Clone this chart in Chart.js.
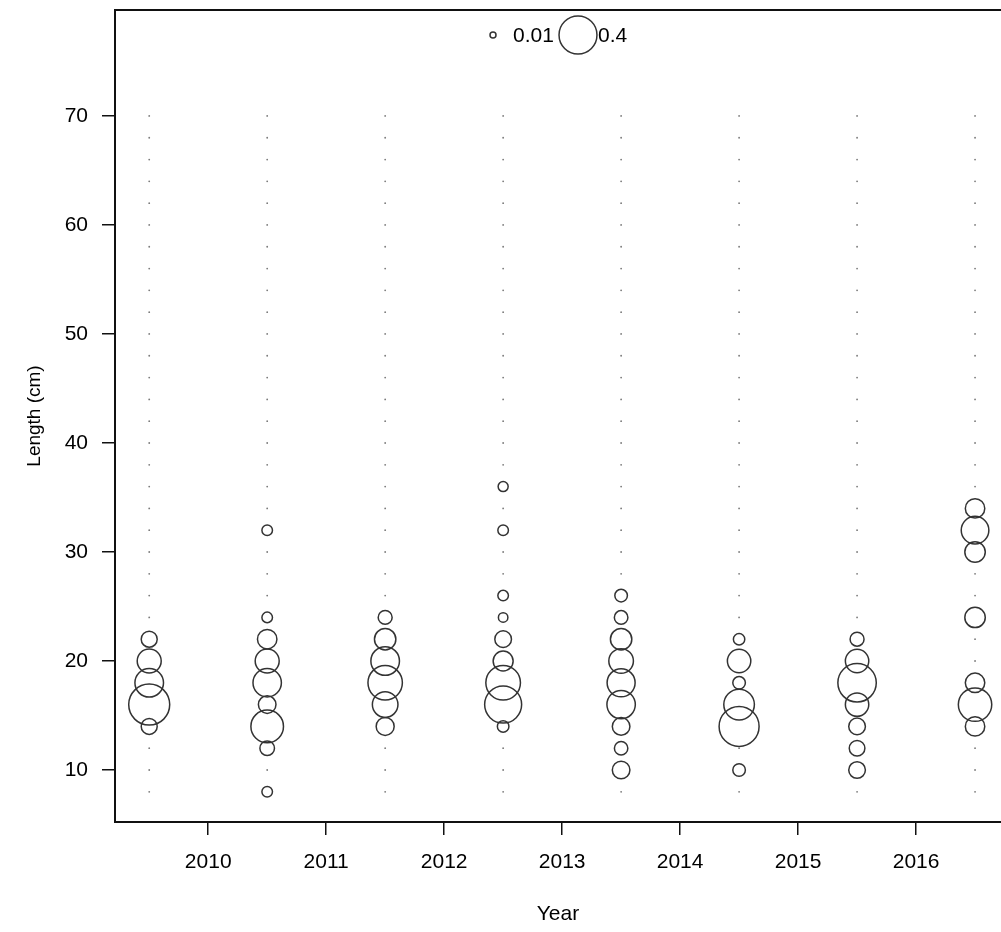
<!DOCTYPE html>
<html>
<head>
<meta charset="utf-8">
<script src="https://cdn.jsdelivr.net/npm/chart.js@4.4.1/dist/chart.umd.min.js"></script>
<style>
  html, body { margin: 0; padding: 0; background: #fff; }
  #wrap { width: 1001px; height: 932px; position: relative; }
</style>
</head>
<body>
<div id="wrap"><canvas id="c"></canvas></div>
<script>
// Length-frequency proportions by year (bubble area ~ proportion)
const yearPositions = [2009.5, 2010.5, 2011.5, 2012.5, 2013.5, 2014.5, 2015.5, 2016.5];
const yearTicks = [2010, 2011, 2012, 2013, 2014, 2015, 2016];
const lengthTicks = [10, 20, 30, 40, 50, 60, 70];
const lengthBins = [8, 10, 12, 14, 16, 18, 20, 22, 24, 26, 28, 30, 32, 34, 36, 38,
                    40, 42, 44, 46, 48, 50, 52, 54, 56, 58, 60, 62, 64, 66, 68, 70];

//                8     10     12     14     16     18     20     22     24     26    28   30     32     34     36    38..70
const p2009 = [0,     0,     0,     0.071, 0.467, 0.227, 0.160, 0.071, 0,     0,     0, 0,     0,     0,     0,     0, 0,0,0,0,0,0,0,0,0,0,0,0,0,0,0,0];
const p2010 = [0.031, 0,     0.059, 0.295, 0.086, 0.224, 0.160, 0.105, 0.031, 0,     0, 0,     0.031, 0,     0,     0, 0,0,0,0,0,0,0,0,0,0,0,0,0,0,0,0];
const p2011 = [0,     0,     0,     0.090, 0.182, 0.329, 0.227, 0.127, 0.054, 0,     0, 0,     0,     0,     0,     0, 0,0,0,0,0,0,0,0,0,0,0,0,0,0,0,0];
const p2012 = [0,     0,     0,     0.037, 0.380, 0.333, 0.111, 0.077, 0.025, 0.031, 0, 0,     0.031, 0,     0.028, 0, 0,0,0,0,0,0,0,0,0,0,0,0,0,0,0,0];
const p2013 = [0,     0.086, 0.050, 0.086, 0.224, 0.218, 0.168, 0.127, 0.051, 0.044, 0, 0,     0,     0,     0,     0, 0,0,0,0,0,0,0,0,0,0,0,0,0,0,0,0];
const p2014 = [0,     0.044, 0,     0.444, 0.260, 0.044, 0.152, 0.036, 0,     0,     0, 0,     0,     0,     0,     0, 0,0,0,0,0,0,0,0,0,0,0,0,0,0,0,0];
const p2015 = [0,     0.077, 0.068, 0.077, 0.152, 0.410, 0.152, 0.054, 0,     0,     0, 0,     0,     0,     0,     0, 0,0,0,0,0,0,0,0,0,0,0,0,0,0,0,0];
const p2016 = [0,     0,     0,     0.105, 0.310, 0.105, 0,     0,     0.116, 0,     0, 0.116, 0.212, 0.105, 0,     0, 0,0,0,0,0,0,0,0,0,0,0,0,0,0,0,0];

const legendValues = [0.01, 0.4];

const proportionsByYear = [p2009, p2010, p2011, p2012, p2013, p2014, p2015, p2016];

const FONT = "'Liberation Sans', Arial, sans-serif";
const RADIUS_SCALE = 30;           // pixel radius for a proportion of 1
const radiusOf = p => RADIUS_SCALE * Math.sqrt(p);
const CIRCLE_COLOR = '#333';
const CIRCLE_WIDTH = 1.5;

const bubbles = [];
const emptyBins = [];
proportionsByYear.forEach((arr, i) => {
  arr.forEach((p, j) => {
    const pt = { x: yearPositions[i], y: lengthBins[j], p: p };
    if (p > 0) bubbles.push(pt); else emptyBins.push(pt);
  });
});

// Scales should not reserve room for half-labels at the ends
const noEdgePadding = s => {
  s.paddingTop = 0; s.paddingBottom = 0; s.paddingLeft = 0; s.paddingRight = 0;
};

// Box around the plotting region plus the bubble-size key
const framePlugin = {
  id: 'frame',
  afterDraw(chart) {
    const { ctx, chartArea: a } = chart;
    ctx.save();
    ctx.strokeStyle = '#111';
    ctx.lineWidth = 2;
    ctx.strokeRect(a.left, a.top, a.right - a.left + 4, a.bottom - a.top);

    // size key
    const cy = a.top + 25;
    ctx.strokeStyle = CIRCLE_COLOR;
    ctx.lineWidth = CIRCLE_WIDTH;
    ctx.font = '21px ' + FONT;
    ctx.fillStyle = '#000';
    ctx.textBaseline = 'middle';
    ctx.textAlign = 'left';
    const smallX = 493, bigX = 578;
    ctx.beginPath();
    ctx.arc(smallX, cy, radiusOf(legendValues[0]), 0, Math.PI * 2);
    ctx.stroke();
    ctx.fillText(String(legendValues[0]), 513, cy + 1);
    ctx.beginPath();
    ctx.arc(bigX, cy, radiusOf(legendValues[1]), 0, Math.PI * 2);
    ctx.stroke();
    ctx.fillText(String(legendValues[1]), 598, cy + 1);
    ctx.restore();
  }
};

new Chart(document.getElementById('c'), {
  type: 'scatter',
  data: {
    datasets: [
      {
        label: 'empty',
        data: emptyBins,
        pointRadius: 0.9,
        pointBorderWidth: 0,
        pointBackgroundColor: '#7a7a7a',
        pointBorderColor: '#7a7a7a'
      },
      {
        label: 'proportion',
        data: bubbles,
        pointRadius: ctx => radiusOf(ctx.raw.p),
        pointBorderWidth: CIRCLE_WIDTH,
        pointBorderColor: CIRCLE_COLOR,
        pointBackgroundColor: 'rgba(0,0,0,0)'
      }
    ]
  },
  options: {
    responsive: true,
    maintainAspectRatio: false,
    animation: false,
    events: [],
    layout: { autoPadding: false, padding: { top: 10, right: 0, bottom: 0, left: 0 } },
    plugins: { legend: { display: false }, tooltip: { enabled: false } },
    scales: {
      x: {
        type: 'linear',
        min: 2009.21,
        max: 2016.72,
        afterBuildTicks: s => { s.ticks = yearTicks.map(v => ({ value: v })); },
        afterFit: s => { s.height = 110; noEdgePadding(s); },
        border: { display: false },
        grid: { drawOnChartArea: false, drawTicks: true, tickLength: 13, color: '#111', lineWidth: 1.5 },
        ticks: {
          color: '#000', font: { size: 21, family: FONT }, padding: 15,
          autoSkip: false, maxRotation: 0, callback: v => String(v)
        },
        title: {
          display: true, text: 'Year', color: '#000',
          font: { size: 21, family: FONT }, padding: { top: 0, bottom: 5 }
        }
      },
      y: {
        type: 'linear',
        min: 5.23,
        max: 79.72,
        afterBuildTicks: s => { s.ticks = lengthTicks.map(v => ({ value: v })); },
        afterFit: s => { s.width = 115; noEdgePadding(s); },
        border: { display: false },
        grid: { drawOnChartArea: false, drawTicks: true, tickLength: 13, color: '#111', lineWidth: 1.5 },
        ticks: {
          color: '#000', font: { size: 21, family: FONT }, padding: 14,
          autoSkip: false, callback: v => String(v)
        },
        title: {
          display: true, text: 'Length (cm)', color: '#000',
          font: { size: 19, family: FONT }, padding: { top: 23, bottom: 0 }
        }
      }
    }
  },
  plugins: [framePlugin]
});
</script>
</body>
</html>
